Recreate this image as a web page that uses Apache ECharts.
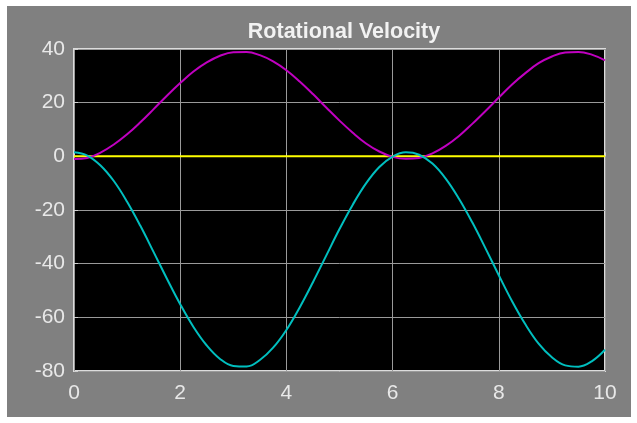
<!DOCTYPE html>
<html>
<head>
<meta charset="utf-8">
<script src="https://cdn.jsdelivr.net/npm/echarts@6/dist/echarts.min.js"></script>
<style>
html,body{margin:0;padding:0;background:#fff;}
#chart{width:637px;height:423px;}
</style>
</head>
<body>
<div id="chart"></div>
<script>
var titleText = 'Rotational Velocity';
var timeValues = [0,0.25,0.5,0.75,1,1.25,1.5,1.75,2,2.25,2.5,2.75,3,3.25,3.5,3.75,4,4.25,4.5,4.75,5,5.25,5.5,5.75,6,6.25,6.5,6.75,7,7.25,7.5,7.75,8,8.25,8.5,8.75,9,9.25,9.5,9.75,10];
var magentaValues = [-1,-0.6,1.4,4.4,8.2,12.7,17.6,22.6,27.3,31.6,35.0,37.5,38.8,38.9,37.7,35.4,32.1,27.9,23.2,18.2,13.3,8.8,4.8,1.8,-0.2,-0.9,-0.6,1.1,3.9,7.6,12.1,16.9,21.9,26.8,31.0,34.7,37.2,38.7,38.9,37.9,35.8];
var cyanValues = [1.5,0.3,-3.4,-9.2,-16.9,-25.9,-35.7,-45.6,-55.1,-63.6,-70.5,-75.5,-78.1,-78.3,-75.9,-71.3,-64.7,-56.3,-46.9,-37.0,-27.1,-18.0,-10.1,-4.0,-0.1,1.5,0.6,-2.7,-8.3,-15.8,-24.6,-34.3,-44.3,-54.0,-62.6,-69.8,-74.9,-77.9,-78.4,-76.4,-72.1];
var yellowValues = [0,0,0,0,0,0,0,0,0,0,0,0,0,0,0,0,0,0,0,0,0,0,0,0,0,0,0,0,0,0,0,0,0,0,0,0,0,0,0,0,0];
var xTicks = [0,2,4,6,8,10];
var yTicks = [-80,-60,-40,-20,0,20,40];

function pairs(vals){ return timeValues.map(function(t,i){ return [t, vals[i]]; }); }

var chart = echarts.init(document.getElementById('chart'), null, {renderer:'canvas'});
var font = 'Liberation Sans, Arial, Helvetica, sans-serif';
chart.setOption({
  animation:false,
  backgroundColor:'#ffffff',
  graphic:[{type:'rect', z:-10, silent:true, shape:{x:7,y:6,width:624,height:411}, style:{fill:'#808080'}}],
  title:{text:titleText, left:339, textAlign:'center', top:16, textStyle:{color:'#f2f2f2', fontSize:21.5, fontWeight:'bold', fontFamily:font}},
  grid:{left:74, right:32, top:49, bottom:52, show:true, backgroundColor:'#000000', borderColor:'#dcdcdc', borderWidth:2, containLabel:false},
  xAxis:{type:'value', min:0, max:10, interval:2,
    axisLine:{show:false}, axisTick:{show:true, inside:true, length:4, lineStyle:{color:'#d0d0d0'}},
    splitLine:{show:true, lineStyle:{color:'#9a9a9a', width:1}},
    axisLabel:{color:'#e8e8e8', fontSize:21, fontFamily:font, margin:12, formatter:function(v){return xTicks.indexOf(v)>=0?String(v):'';}}},
  yAxis:{type:'value', min:-80, max:40, interval:20,
    axisLine:{show:false}, axisTick:{show:true, inside:true, length:4, lineStyle:{color:'#d0d0d0'}},
    splitLine:{show:true, lineStyle:{color:'#9a9a9a', width:1}},
    axisLabel:{color:'#e8e8e8', fontSize:21, fontFamily:font, margin:9, formatter:function(v){return yTicks.indexOf(v)>=0?String(v):'';}}},
  series:[
    {type:'line', data:pairs(yellowValues), showSymbol:false, lineStyle:{color:'#ffff00', width:2}, itemStyle:{color:'#ffff00'}},
    {type:'line', data:pairs(magentaValues), smooth:0.4, showSymbol:false, lineStyle:{color:'#c000c0', width:2}, itemStyle:{color:'#c000c0'}},
    {type:'line', data:pairs(cyanValues), smooth:0.4, showSymbol:false, lineStyle:{color:'#00bfbf', width:2}, itemStyle:{color:'#00bfbf'}}
  ]
});
</script>
</body>
</html>
